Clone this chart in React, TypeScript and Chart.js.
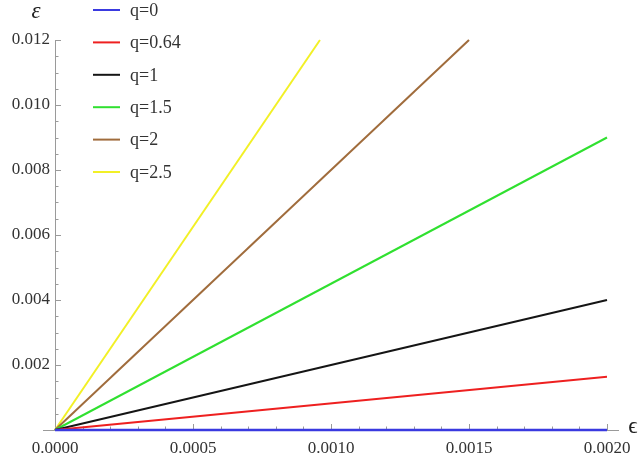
import React, { useEffect, useRef } from "react";
import { Chart, registerables } from "chart.js";

Chart.register(...registerables);

const seriesLabels = ["q=0", "q=0.64", "q=1", "q=1.5", "q=2", "q=2.5"];
const startX = [0, 0, 0, 0, 0, 0];
const startY = [0, 0, 0, 0, 0, 0];
const endX = [0.002, 0.002, 0.002, 0.002, 0.0015, 0.00096];
const endY = [0, 0.00164, 0.004, 0.009, 0.012, 0.012];
const seriesColors = ["#3a3ae0", "#ee2020", "#151515", "#30e030", "#a06c3c", "#f2f026"];

const xMajorTicks = [0, 0.0005, 0.001, 0.0015, 0.002];
const xMinorTicks = [
  0.0001, 0.0002, 0.0003, 0.0004, 0.0006, 0.0007, 0.0008, 0.0009,
  0.0011, 0.0012, 0.0013, 0.0014, 0.0016, 0.0017, 0.0018, 0.0019,
];
const yMajorTicks = [0.002, 0.004, 0.006, 0.008, 0.01, 0.012];
const yMinorTicks = [
  0.0005, 0.001, 0.0015, 0.0025, 0.003, 0.0035, 0.0045, 0.005, 0.0055,
  0.0065, 0.007, 0.0075, 0.0085, 0.009, 0.0095, 0.0105, 0.011, 0.0115,
];

const axisColor = "#9a9a9a";
const textColor = "#333333";
const serif = "'Liberation Serif', 'Times New Roman', serif";

const axesPlugin = {
  id: "mmaAxes",
  beforeDatasetsDraw(chart: any) {
    const { ctx, chartArea } = chart;
    const xs = chart.scales.x;
    const ys = chart.scales.y;
    const y0 = ys.getPixelForValue(0);
    const x0 = xs.getPixelForValue(0);
    ctx.save();
    ctx.strokeStyle = axisColor;
    ctx.lineWidth = 1;
    ctx.beginPath();
    ctx.moveTo(x0 - 12, y0 + 0.5);
    ctx.lineTo(chartArea.right + 12, y0 + 0.5);
    ctx.stroke();
    ctx.beginPath();
    ctx.moveTo(x0 + 0.5, y0);
    ctx.lineTo(x0 + 0.5, ys.getPixelForValue(0.012));
    ctx.stroke();
    xMajorTicks.forEach((v) => {
      const p = Math.round(xs.getPixelForValue(v)) + 0.5;
      ctx.beginPath();
      ctx.moveTo(p, y0);
      ctx.lineTo(p, y0 - 6);
      ctx.stroke();
    });
    xMinorTicks.forEach((v) => {
      const p = Math.round(xs.getPixelForValue(v)) + 0.5;
      ctx.beginPath();
      ctx.moveTo(p, y0);
      ctx.lineTo(p, y0 - 3.5);
      ctx.stroke();
    });
    yMajorTicks.forEach((v) => {
      const p = Math.round(ys.getPixelForValue(v)) + 0.5;
      ctx.beginPath();
      ctx.moveTo(x0, p);
      ctx.lineTo(x0 + 6, p);
      ctx.stroke();
    });
    yMinorTicks.forEach((v) => {
      const p = Math.round(ys.getPixelForValue(v)) + 0.5;
      ctx.beginPath();
      ctx.moveTo(x0, p);
      ctx.lineTo(x0 + 3.5, p);
      ctx.stroke();
    });
    ctx.restore();
  },
  afterDatasetsDraw(chart: any) {
    const { ctx } = chart;
    ctx.save();
    ctx.fillStyle = "#222";
    ctx.font = `italic 23px ${serif}`;
    ctx.textAlign = "center";
    ctx.textBaseline = "middle";
    ctx.fillText("\u03b5", 36, 12);
    ctx.font = `23px ${serif}`;
    ctx.fillText("\u03f5", 633, 427);
    ctx.font = `18px ${serif}`;
    ctx.textAlign = "left";
    seriesLabels.forEach((lab, i) => {
      const cy = 10 + i * 32.4;
      ctx.strokeStyle = seriesColors[i];
      ctx.lineWidth = 2;
      ctx.beginPath();
      ctx.moveTo(93, cy);
      ctx.lineTo(120, cy);
      ctx.stroke();
      ctx.fillStyle = textColor;
      ctx.fillText(lab, 130, cy + 1);
    });
    ctx.restore();
  },
};

export default function App() {
  const ref = useRef<HTMLCanvasElement | null>(null);
  useEffect(() => {
    if (!ref.current) return;
    const datasets = seriesLabels.map((lab, i) => ({
      label: lab,
      data: [
        { x: startX[i], y: startY[i] },
        { x: endX[i], y: endY[i] },
      ],
      borderColor: seriesColors[i],
      backgroundColor: seriesColors[i],
      borderWidth: i === 0 ? 2.5 : 2,
      pointRadius: 0,
      showLine: true,
      fill: false,
      clip: 4,
    }));
    const chart = new Chart(ref.current, {
      type: "scatter",
      data: { datasets },
      options: {
        animation: false,
        responsive: false,
        layout: { padding: { left: 8, right: 33, top: 40, bottom: 0 } },
        plugins: { legend: { display: false }, tooltip: { enabled: false } },
        scales: {
          x: {
            type: "linear",
            min: 0,
            max: 0.002,
            grid: { display: false, drawTicks: false },
            border: { display: false },
            afterFit: (s: any) => {
              s.height = 34;
            },
            ticks: {
              stepSize: 0.0005,
              padding: 8,
              color: textColor,
              font: { family: serif, size: 17 },
              callback: (v: any) => Number(v).toFixed(4),
              maxRotation: 0,
            },
          },
          y: {
            type: "linear",
            min: 0,
            max: 0.012,
            grid: { display: false, drawTicks: false },
            border: { display: false },
            afterFit: (s: any) => {
              s.width = 47;
            },
            ticks: {
              stepSize: 0.002,
              padding: 5,
              color: textColor,
              font: { family: serif, size: 17 },
              callback: (v: any) => (Number(v) === 0 ? "" : Number(v).toFixed(3)),
            },
          },
        },
      } as any,
      plugins: [axesPlugin],
    });
    return () => chart.destroy();
  }, []);
  return (
    <div style={{ position: "fixed", left: 0, top: 0, width: 640, height: 464, background: "#fff" }}>
      <canvas ref={ref} width={640} height={464} style={{ width: 640, height: 464 }} />
    </div>
  );
}
